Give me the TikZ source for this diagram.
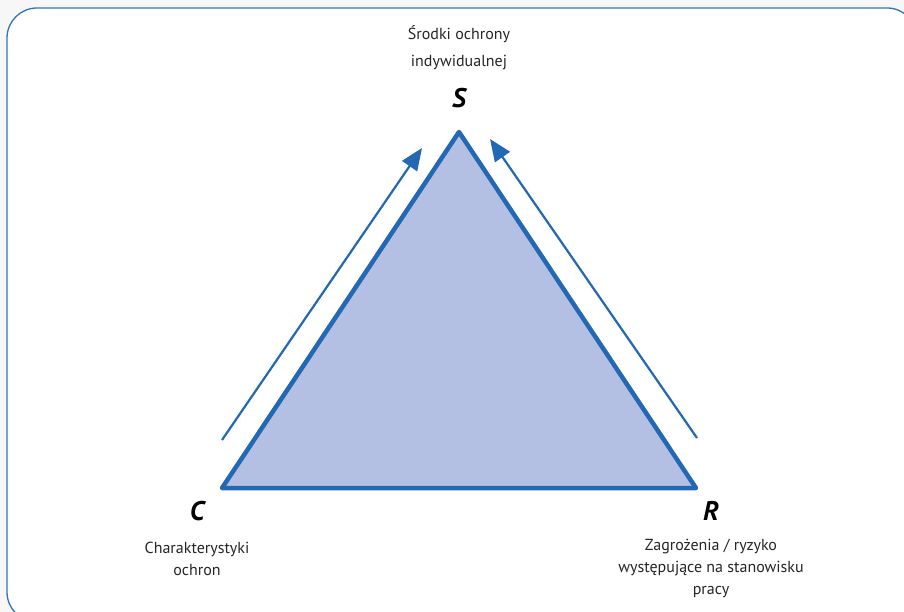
\documentclass[tikz,border=0pt]{standalone}
\usepackage{fontspec}
\setmainfont{PT Sans}
\usetikzlibrary{arrows.meta}
\definecolor{frameblue}{HTML}{2F74BC}
\definecolor{triblue}{HTML}{2368B3}
\definecolor{trifill}{HTML}{B3BFE3}
\definecolor{bggray}{HTML}{F7F7F7}
\tikzset{
  lbl/.style={align=center, font=\fontsize{16}{22}\selectfont, text=black!85},
  letter/.style={font=\fontsize{27}{27}\selectfont\bfseries\itshape},
  sidearrow/.style={draw=triblue, line width=2.2pt, -{Triangle[length=22pt,width=18pt]}},
}
\begin{document}
\begin{tikzpicture}[x=1pt,y=-1pt]
\useasboundingbox (0,0) rectangle (904,612);
\fill[bggray] (0,0) rectangle (904,612);
\begin{scope}
\clip (0,0) rectangle (904,612);
\draw[frameblue, fill=white, line width=1.3pt, rounded corners=30pt] (7,8) rectangle (917,622);
\end{scope}
\coordinate (S) at (459,132);
\coordinate (C) at (222,488);
\coordinate (R) at (696,488);
\draw[triblue, fill=trifill, line width=4.5pt, line join=round] (S) -- (R) -- (C) -- cycle;
\coordinate (a1s) at (222,440);
\coordinate (a1e) at (422,148);
\coordinate (a2s) at (697,438);
\coordinate (a2e) at (490,139);
\draw[sidearrow] (a1s) -- (a1e);
\draw[sidearrow] (a2s) -- (a2e);
\node[letter] (Sl) at (459,98) {S};
\node[letter] (Cl) at (197,511) {C};
\node[letter] (Rl) at (711,511) {R};
\node[lbl, font=\fontsize{16}{27}\selectfont] (St) at (459,48) {Środki ochrony\\indywidualnej};
\node[lbl] (Ct) at (197,559) {Charakterystyki\\ochron};
\node[lbl] (Rt) at (711,568) {Zagrożenia / ryzyko\\występujące na stanowisku\\pracy};
\end{tikzpicture}
\end{document}
